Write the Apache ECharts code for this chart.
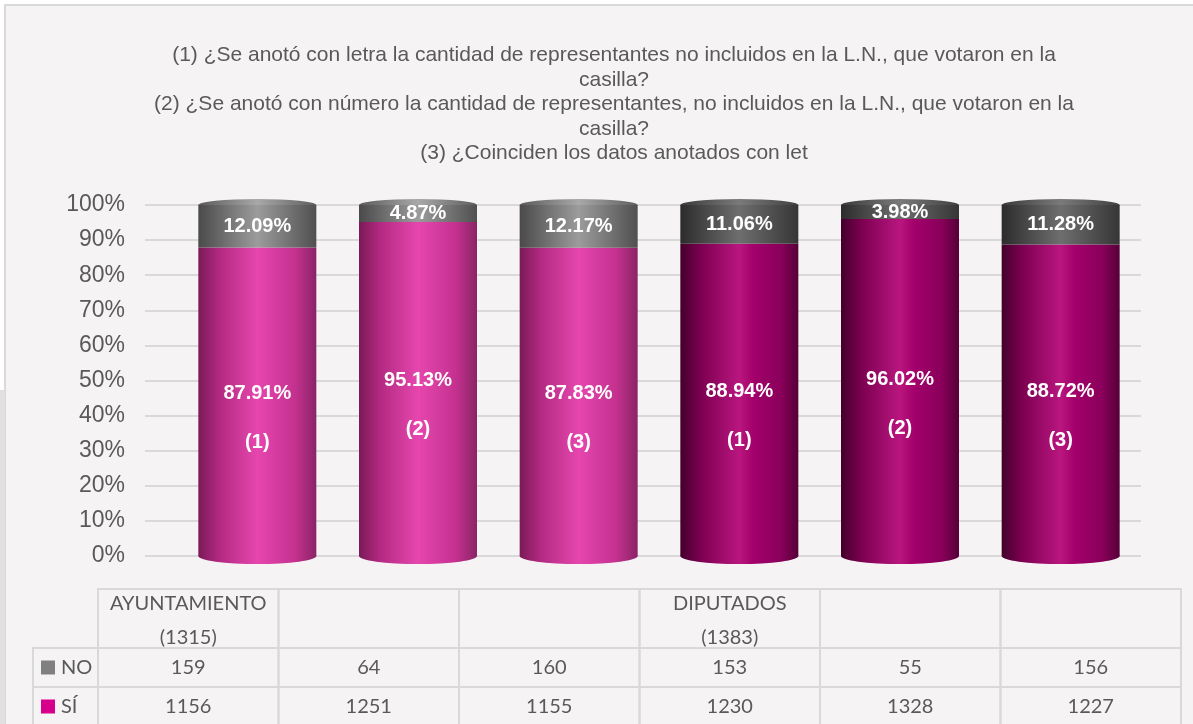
<!DOCTYPE html>
<html>
<head>
<meta charset="utf-8">
<script src="https://cdn.jsdelivr.net/npm/echarts@6/dist/echarts.min.js"></script>
<style>
  html, body { margin: 0; padding: 0; background: #fff; }
  #chart { width: 1193px; height: 724px; }
</style>
</head>
<body>
<div id="chart"></div>
<script>
const titleLines = [
  "(1) ¿Se anotó con letra la cantidad de representantes no incluidos en la L.N., que votaron en la",
  "casilla?",
  "(2) ¿Se anotó con número la cantidad de representantes, no incluidos en la L.N., que votaron en la",
  "casilla?",
  "(3) ¿Coinciden los datos anotados con let"
];
const groups = ["AYUNTAMIENTO\n(1315)", "", "", "DIPUTADOS\n(1383)", "", ""];
const markers = ["(1)", "(2)", "(3)", "(1)", "(2)", "(3)"];
const siPct = [87.91, 95.13, 87.83, 88.94, 96.02, 88.72];
const noPct = [12.09, 4.87, 12.17, 11.06, 3.98, 11.28];
const noCount = [159, 64, 160, 153, 55, 156];
const siCount = [1156, 1251, 1155, 1230, 1328, 1227];
const rowNames = ["NO", "SÍ"];

// which group (ayuntamiento / diputados) each column belongs to
let g = -1;
const groupIdx = groups.map(h => (h ? ++g : g));

const grad = stops =>
  new echarts.graphic.LinearGradient(0, 0, 1, 0,
    stops.map(([offset, color]) => ({ offset, color })));

const pinkStops = [
  [[0, "#7a1a57"], [0.18, "#b32a82"], [0.5, "#e646ae"], [0.82, "#c5318f"], [1, "#8a2466"]],
  [[0, "#43002b"], [0.18, "#7e0052"], [0.5, "#b9167f"], [0.62, "#a3006b"], [0.85, "#8a005b"], [1, "#560038"]]
];
const greyStops = [
  [[0, "#4a4a4a"], [0.5, "#9c9c9c"], [1, "#505050"]],
  [[0, "#2c2c2c"], [0.5, "#6e6e6e"], [1, "#363636"]]
];
const capStops = [
  [[0, "#5a5a5a"], [0.5, "#a8a8a8"], [1, "#5e5e5e"]],
  [[0, "#3a3a3a"], [0.5, "#7a7a7a"], [1, "#404040"]]
];

const font = "'Liberation Sans', Arial, sans-serif";
const tableFont = "Lato, 'Open Sans', sans-serif";
const BAR_W = 118;

const chart = echarts.init(document.getElementById("chart"));

const option = {
  backgroundColor: "#ffffff",
  animation: false,
  title: {
    text: titleLines.join("\n"),
    left: 609,
    top: 38,
    textAlign: "center",
    textStyle: {
      fontFamily: font,
      fontSize: 21,
      fontWeight: "normal",
      lineHeight: 24.5,
      color: "#595959"
    }
  },
  graphic: [
    {
      type: "rect", z: -10, silent: true,
      shape: { x: 5, y: 5, width: 1200, height: 730 },
      style: { fill: "#f5f3f4", stroke: "#d9d9d9", lineWidth: 2 }
    },
    {
      type: "rect", z: -10, silent: true,
      shape: { x: 0, y: 390, width: 5, height: 334 },
      style: { fill: "#e0e0e0" }
    }
  ],
  grid: [
    { left: 145, right: 52, top: 205, bottom: 168 },
    { left: 177, right: 52, top: 205, bottom: 168 },
    { left: 98, right: 12, top: 589, bottom: 0 }
  ],
  xAxis: [
    { gridIndex: 0, type: "category", data: markers, show: false },
    { gridIndex: 1, type: "category", data: markers, show: false },
    { gridIndex: 2, type: "category", data: groups, show: false }
  ],
  yAxis: [
    {
      gridIndex: 0, type: "value", min: 0, max: 100, interval: 10,
      axisLine: { show: false }, axisTick: { show: false },
      axisLabel: {
        formatter: "{value}%", fontSize: 23, color: "#595959",
        fontFamily: font, margin: 20
      },
      splitLine: { lineStyle: { color: "#d9d9d9", width: 2 } }
    },
    { gridIndex: 1, type: "value", min: 0, max: 100, show: false },
    { gridIndex: 2, type: "value", min: 0, max: 1, show: false }
  ],
  series: [
    {
      name: "base", type: "pictorialBar", xAxisIndex: 1, yAxisIndex: 1,
      symbol: "circle", symbolSize: [BAR_W, 16], symbolPosition: "start",
      symbolOffset: [0, "50%"], z: 1, silent: true,
      data: siPct.map((v, i) => ({ value: v, itemStyle: { color: grad(pinkStops[groupIdx[i]]) } }))
    },
    {
      name: "top", type: "pictorialBar", xAxisIndex: 1, yAxisIndex: 1,
      symbol: "circle", symbolSize: [BAR_W, 12], symbolPosition: "end",
      symbolOffset: [0, "-50%"], z: 1, silent: true,
      data: siPct.map((v, i) => ({
        value: v + noPct[i],
        itemStyle: { color: grad(capStops[groupIdx[i]]) }
      }))
    },
    {
      name: "SÍ", type: "bar", stack: "total", xAxisIndex: 1, yAxisIndex: 1,
      barWidth: BAR_W, z: 2,
      data: siPct.map((v, i) => ({ value: v, itemStyle: { color: grad(pinkStops[groupIdx[i]]) } })),
      label: {
        show: true, position: "inside", offset: [0, 16],
        formatter: p => `{v|${p.value.toFixed(2)}%}\n\n\n{m|${p.name}}`,
        rich: {
          v: { fontFamily: font, fontSize: 20, fontWeight: "bold", color: "#fff", lineHeight: 25 },
          m: { fontFamily: font, fontSize: 20, fontWeight: "bold", color: "#fff", lineHeight: 25 }
        }
      }
    },
    {
      name: "NO", type: "bar", stack: "total", xAxisIndex: 1, yAxisIndex: 1,
      barWidth: BAR_W, z: 2,
      data: noPct.map((v, i) => ({ value: v, itemStyle: { color: grad(greyStops[groupIdx[i]]) } })),
      label: {
        show: true, position: "inside",
        formatter: p => p.value.toFixed(2) + "%",
        fontFamily: font, fontSize: 20, fontWeight: "bold", color: "#fff"
      }
    },
    {
      name: "table", type: "custom", xAxisIndex: 2, yAxisIndex: 2,
      silent: true, clip: false,
      data: groups.map((h, i) => [i, 0]),
      renderItem: (params, api) => {
        const i = api.value(0);
        const cx = api.coord([i, 0])[0];
        const w = api.size([1, 0])[0];
        const x0 = cx - w / 2;
        const y0 = params.coordSys.y;
        const hh = 59, rh = 39;
        const line = { stroke: "#d9d9d9", lineWidth: 2, fill: "none" };
        const txt = (text, x, y, extra) => ({
          type: "text",
          style: Object.assign({
            text, x, y, align: "center", verticalAlign: "middle",
            fill: "#595959", fontSize: 20, fontFamily: tableFont, lineHeight: 34
          }, extra || {})
        });
        const children = [
          { type: "rect", shape: { x: x0, y: y0, width: w, height: hh }, style: line },
          { type: "rect", shape: { x: x0, y: y0 + hh, width: w, height: rh }, style: line },
          { type: "rect", shape: { x: x0, y: y0 + hh + rh, width: w, height: rh + 4 }, style: line },
          txt(groups[i], cx, y0 + hh / 2 + 2),
          txt(String(noCount[i]), cx, y0 + hh + rh / 2),
          txt(String(siCount[i]), cx, y0 + hh + rh + rh / 2)
        ];
        if (i === 0) {
          const lx = 33, lw = x0 - lx;
          const swatch = ["#808080", "#d6008c"];
          rowNames.forEach((n, r) => {
            const ry = y0 + hh + r * rh;
            children.push(
              { type: "rect", shape: { x: lx, y: ry, width: lw, height: rh + (r ? 4 : 0) }, style: line },
              { type: "rect", shape: { x: 41, y: ry + rh / 2 - 7, width: 14, height: 14 }, style: { fill: swatch[r] } },
              txt(n, 61, ry + rh / 2, { align: "left" })
            );
          });
        }
        return { type: "group", children };
      }
    }
  ]
};

chart.setOption(option);
window.addEventListener("resize", () => chart.resize());
</script>
</body>
</html>
